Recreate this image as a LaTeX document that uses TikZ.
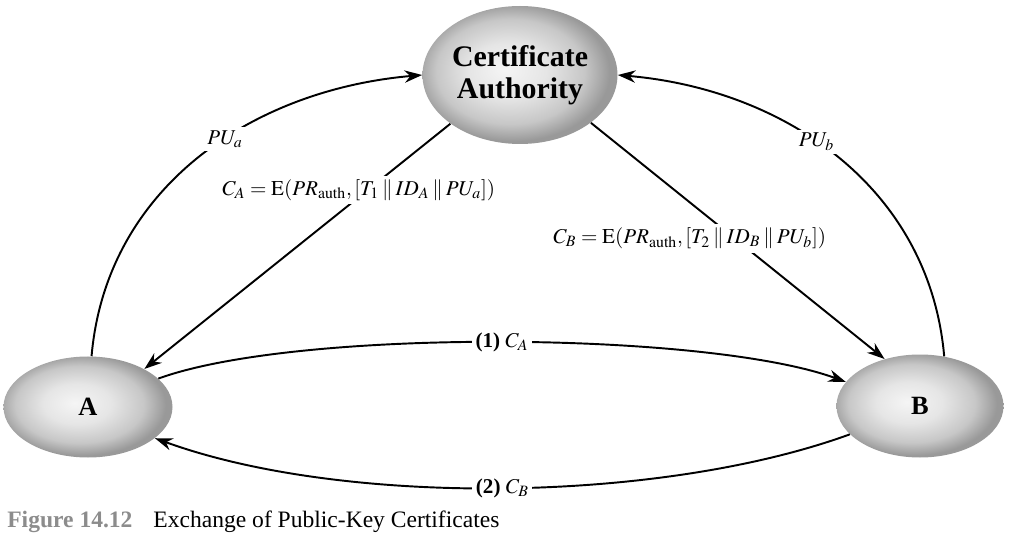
\documentclass[tikz,border=0pt]{standalone}
\usepackage{mathptmx}
\usepackage{fontspec}
\setmainfont{Liberation Serif}
\usepackage{xcolor}
\usepackage{tikz}
\usetikzlibrary{positioning, shapes, arrows.meta}

\pgfdeclareradialshading{orb}{\pgfpoint{-4bp}{2bp}}{color(0bp)=(white!96!black); color(10bp)=(white!90!black); color(19bp)=(black!22); color(25bp)=(black!40); color(50bp)=(black!40)}

\begin{document}
\begin{tikzpicture}[
    party/.style={ellipse, inner sep=0pt, shading=orb, font=\fontsize{15}{17}\selectfont\bfseries},
    link/.style={-{Stealth[length=10pt, width=7pt]}, line width=1.1pt},
    lbl/.style={fill=white, inner sep=2pt, font=\fontsize{12}{14}\selectfont}
  ]
  \useasboundingbox (0,0) rectangle (20.28,10.96);

  \node[party, minimum width=3.9cm, minimum height=2.76cm, align=center, font=\fontsize{17}{18.5}\selectfont\bfseries] (ca) at (10.40, 9.46) {Certificate\\Authority};
  \node[party, minimum width=3.38cm, minimum height=2.02cm] (a) at (1.76, 2.82) {A};
  \node[party, minimum width=3.34cm, minimum height=2.06cm] (b) at (18.40, 2.84) {B};

  % public keys up to the authority
  \draw[link] (a.86) to[out=85, in=185] node[lbl, pos=0.57] {$PU_a$} (ca.west);
  \draw[link] (b.64) to[out=95, in=-5] node[lbl, pos=0.56] {$PU_b$} (ca.east);

  % certificates back down
  \draw[link] (ca.215) -- node[lbl, pos=0.27, xshift=-0.18cm] {$C_A = \mathrm{E}(PR_{\mathrm{auth}}, [T_1 \mathbin{\|} ID_A \mathbin{\|} PU_a])$} (a.34);
  \draw[link] (ca.-34) -- node[lbl, pos=0.49, xshift=-0.9cm] {$C_B = \mathrm{E}(PR_{\mathrm{auth}}, [T_2 \mathbin{\|} ID_B \mathbin{\|} PU_b])$} (b.127);

  % exchange between A and B
  \draw[link] (a.22) to[out=20, in=160, looseness=0.55] node[lbl, pos=0.5] {\textbf{(1)} $C_A$} (b.162);
  \draw[link] (b.202) to[out=200, in=-20, looseness=0.74] node[lbl, pos=0.5] {\textbf{(2)} $C_B$} (a.-25);

  \node[anchor=base west, inner sep=0pt, font=\fontsize{13.4}{15}\selectfont] (cap) at (0.14, 0.42) {\textcolor{black!45}{\textbf{Figure 14.12}}\hspace{0.42cm}Exchange of Public-Key Certificates};
\end{tikzpicture}
\end{document}
